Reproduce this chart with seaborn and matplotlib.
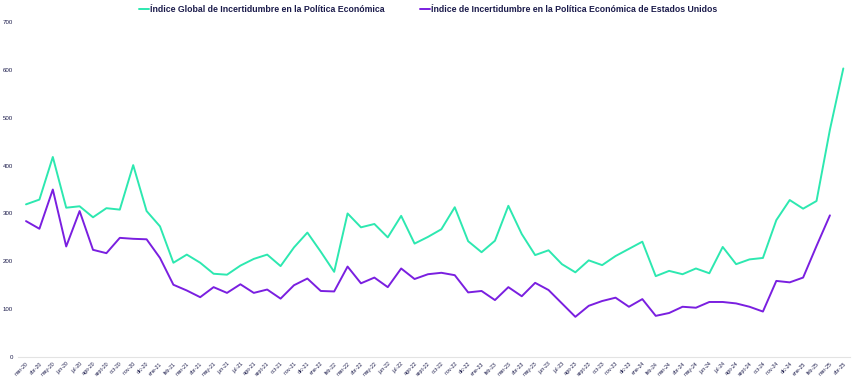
import matplotlib
matplotlib.use("Agg")
import matplotlib.pyplot as plt
import seaborn as sns
import pandas as pd
import numpy as np

# Meses (mar-20 a abr-25)
meses = ["mar-20", "abr-20", "may-20", "jun-20", "jul-20", "ago-20", "sept-20", "oct-20", "nov-20", "dic-20",
         "ene-21", "feb-21", "mar-21", "abr-21", "may-21", "jun-21", "jul-21", "ago-21", "sept-21", "oct-21", "nov-21", "dic-21",
         "ene-22", "feb-22", "mar-22", "abr-22", "may-22", "jun-22", "jul-22", "ago-22", "sept-22", "oct-22", "nov-22", "dic-22",
         "ene-23", "feb-23", "mar-23", "abr-23", "may-23", "jun-23", "jul-23", "ago-23", "sept-23", "oct-23", "nov-23", "dic-23",
         "ene-24", "feb-24", "mar-24", "abr-24", "may-24", "jun-24", "jul-24", "ago-24", "sept-24", "oct-24", "nov-24", "dic-24",
         "ene-25", "feb-25", "mar-25", "abr-25"]

global_epu = [319, 329, 418, 312, 315, 292, 311, 308, 401, 305,
              273, 197, 214, 197, 174, 172, 191, 205, 214, 190, 229, 260,
              220, 178, 300, 271, 278, 250, 295, 237, 251, 267, 313, 242,
              219, 243, 316, 257, 213, 223, 194, 177, 202, 192, 211, 226,
              241, 169, 180, 173, 185, 175, 230, 194, 204, 207, 286, 328,
              310, 326, 475, 603]

usa_epu = [284, 268, 350, 231, 305, 224, 217, 249, 247, 246,
           207, 151, 139, 125, 146, 134, 152, 134, 141, 122, 150, 164,
           138, 137, 189, 154, 166, 146, 185, 163, 173, 176, 171, 135,
           138, 119, 146, 127, 155, 140, 112, 84, 107, 117, 124, 105,
           121, 86, 92, 105, 103, 115, 115, 112, 105, 95, 159, 156,
           166, 232, 296, np.nan]

serie_global = "Índice Global de Incertidumbre en la Política Económica"
serie_usa = "Índice de Incertidumbre en la Política Económica de Estados Unidos"

# Tabla larga para seaborn
df = pd.DataFrame({
    "mes": list(range(len(meses))) * 2,
    "valor": global_epu + usa_epu,
    "serie": [serie_global] * len(meses) + [serie_usa] * len(meses),
})

texto = "#1b1b4b"
sns.set_style("white")
plt.rcParams["font.family"] = ["Liberation Sans", "DejaVu Sans"]

fig = plt.figure(figsize=(8.56, 3.8), dpi=100)
ax = fig.add_axes([0.021, 0.0605, 0.972, 0.8815])

sns.lineplot(data=df, x="mes", y="valor", hue="serie",
             palette={serie_global: "#2de8b0", serie_usa: "#7a1fe0"},
             linewidth=1.4, ax=ax)

ax.set_xlim(-0.6, 61.5)
ax.set_ylim(0, 700)
ax.set_yticks(range(0, 701, 100))
ax.set_xticks(range(len(meses)))
ax.set_xticklabels(meses, rotation=45, ha="right", rotation_mode="anchor")
ax.tick_params(axis="y", labelsize=4.4, colors=texto, length=0, pad=3.5)
ax.tick_params(axis="x", labelsize=3.8, colors=texto, length=0, pad=3)
ax.set_xlabel("")
ax.set_ylabel("")

for lado in ["top", "right", "left"]:
    ax.spines[lado].set_visible(False)
ax.spines["bottom"].set_color("#e3e3e3")
ax.spines["bottom"].set_linewidth(0.8)

ax.legend(loc="center", bbox_to_anchor=(0.5, 0.976), bbox_transform=fig.transFigure,
          ncol=2, frameon=False, handlelength=1.2, handletextpad=0.1, columnspacing=4.0,
          prop={"size": 6.3, "weight": "bold"}, labelcolor=texto)

fig.savefig("out.png", dpi=100)
